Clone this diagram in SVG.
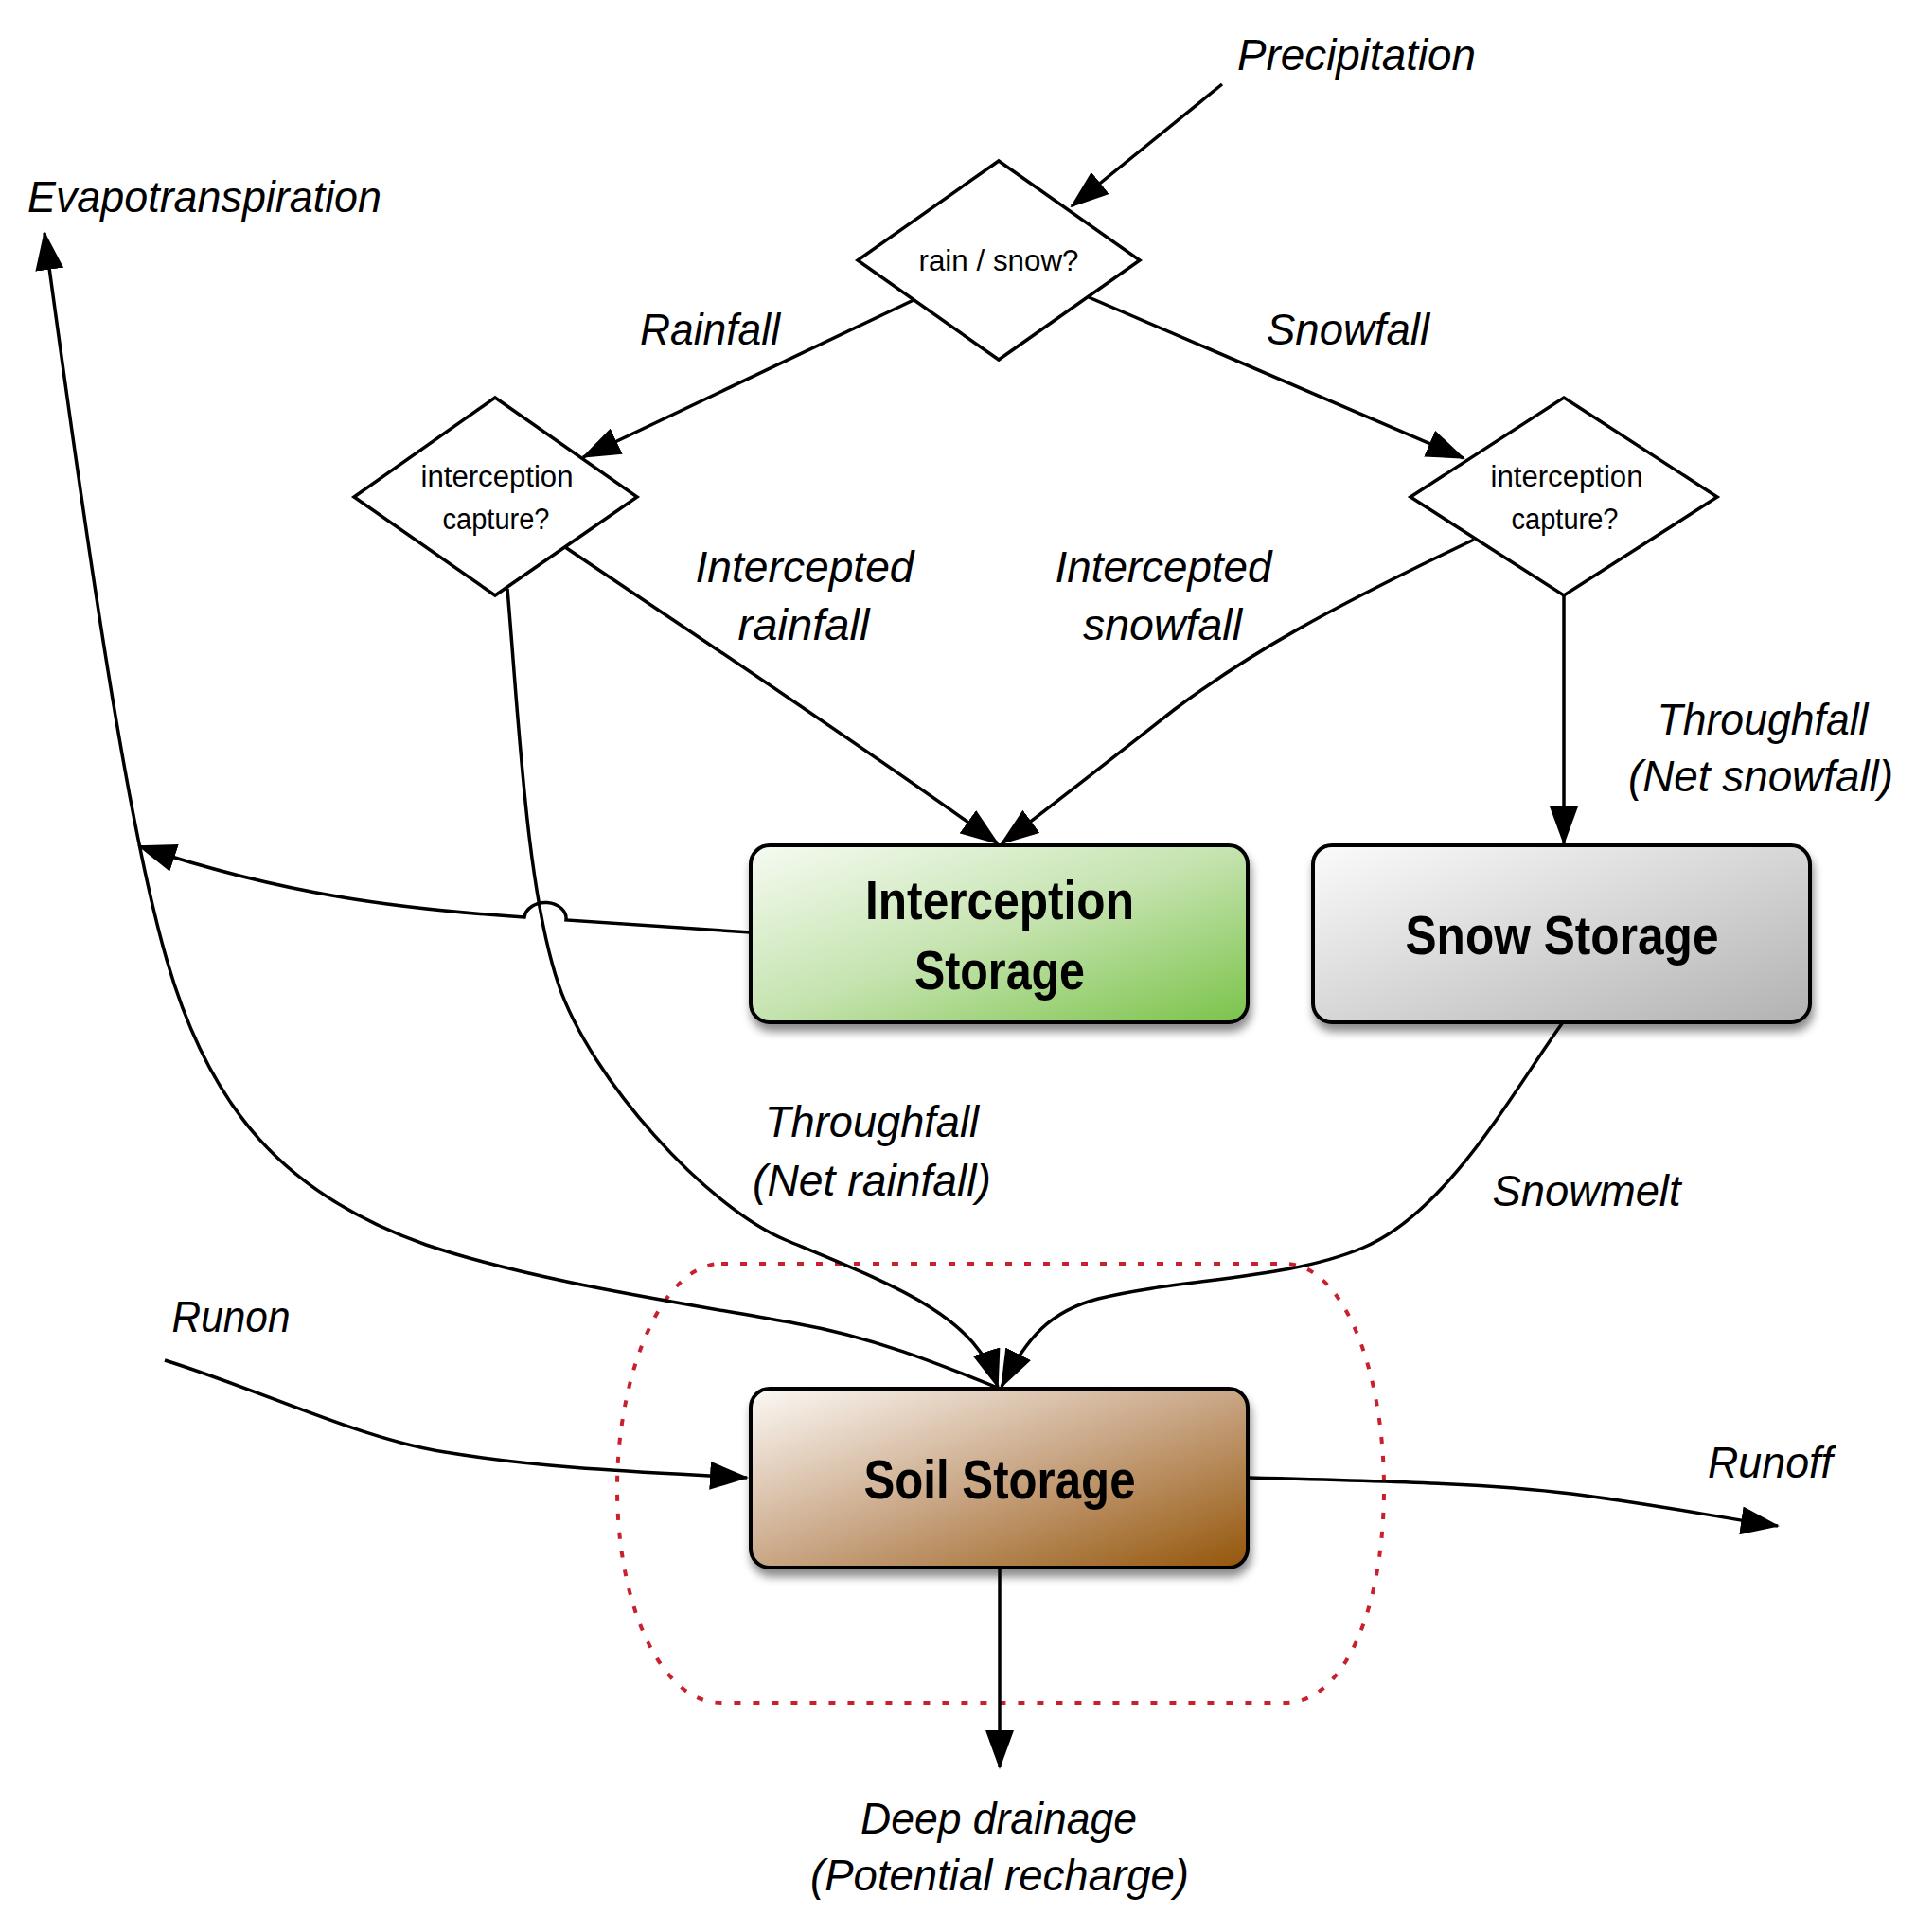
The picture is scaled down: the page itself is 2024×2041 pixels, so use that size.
<svg xmlns="http://www.w3.org/2000/svg" width="2024" height="2041" viewBox="0 0 2024 2041">
<defs>
  <linearGradient id="gInt" x1="0" y1="0" x2="1" y2="1">
    <stop offset="0" stop-color="#f6fbf2"/>
    <stop offset="0.5" stop-color="#c4e3ae"/>
    <stop offset="1" stop-color="#7bc34a"/>
  </linearGradient>
  <linearGradient id="gSnow" x1="0" y1="0" x2="1" y2="1">
    <stop offset="0" stop-color="#fbfbfb"/>
    <stop offset="1" stop-color="#b2b2b2"/>
  </linearGradient>
  <linearGradient id="gSoil" x1="0" y1="0" x2="1" y2="1">
    <stop offset="0" stop-color="#fcf9f6"/>
    <stop offset="0.5" stop-color="#c9a685"/>
    <stop offset="1" stop-color="#94560a"/>
  </linearGradient>
  <filter id="shadow" x="-10%" y="-10%" width="125%" height="140%">
    <feDropShadow dx="2" dy="8" stdDeviation="5" flood-color="#000" flood-opacity="0.45"/>
  </filter>
  <marker id="arr" markerUnits="userSpaceOnUse" viewBox="0 0 42 30" markerWidth="42" markerHeight="30" refX="39" refY="15" orient="auto">
    <path d="M0,0 L41,15 L0,30 z" fill="#000"/>
  </marker>
</defs>
<style>
  .lbl{font-family:"Liberation Sans",Arial,sans-serif;font-style:italic;font-size:46px;fill:#000;text-anchor:middle}
  .dtx{font-family:"Liberation Sans",Arial,sans-serif;font-size:31px;fill:#000;text-anchor:middle}
  .btx{font-family:"Liberation Sans",Arial,sans-serif;font-weight:bold;font-size:58px;fill:#000;text-anchor:middle}
  .con{fill:none;stroke:#000;stroke-width:3.5}
  .arrow{marker-end:url(#arr)}
  .dia{fill:#fff;stroke:#000;stroke-width:3.5;stroke-linejoin:miter}
  .box{stroke:#000;stroke-width:4}
  .region{fill:none;stroke:#c8202c;stroke-width:4;stroke-dasharray:7 13}
</style>
<rect width="2024" height="2041" fill="#fff"/>

<path id="soil-region" class="region" d="M762,1335 H1357 C1420,1335 1462,1450 1462,1572 C1462,1700 1420,1799 1357,1799 H762 C700,1799 652,1700 652,1572 C652,1450 700,1335 762,1335 Z"/>

<g id="connectors">
  <path class="con arrow" d="M1291,89 L1132,218"/>
  <path class="con arrow" d="M965,317 L616,483"/>
  <path class="con arrow" d="M1150,314 L1546,484"/>
  <path class="con arrow" d="M597,578 C700,648 900,780 1054,891"/>
  <path class="con arrow" d="M1557,570 C1400,645 1320,690 1240,750 C1170,805 1100,860 1058,891"/>
  <path class="con arrow" d="M1652,629 L1652,891"/>
  <path class="con arrow" d="M536,622 C548,760 556,940 590,1040 C624,1140 746,1275 830,1310 C950,1360 1030,1390 1054,1465"/>
  <path class="con arrow" d="M1651,1080 C1600,1150 1530,1280 1440,1318 C1360,1352 1250,1350 1160,1372 C1110,1385 1085,1412 1058,1465"/>
  <path class="con arrow" d="M793,985 L598,972 A22,17 0 0 0 554,969 C420,960 300,945 147,894"/>
  <path class="con arrow" d="M1056,1467 C990,1440 920,1412 840,1398 C700,1373 560,1352 450,1315 C300,1262 220,1170 175,1010 C135,870 95,600 47,246"/>
  <path class="con arrow" d="M174,1437 C280,1470 380,1520 470,1534 C580,1552 680,1555 789,1561"/>
  <path class="con arrow" d="M1319,1561 C1480,1565 1580,1568 1660,1578 C1740,1588 1810,1602 1878,1612"/>
  <path class="con arrow" d="M1056,1657 L1056,1867"/>
</g>

<g id="labels">
  <text class="lbl" x="1433" y="74" textLength="252" lengthAdjust="spacingAndGlyphs">Precipitation</text>
  <text class="lbl" x="216" y="224" textLength="374" lengthAdjust="spacingAndGlyphs">Evapotranspiration</text>
  <text class="lbl" x="750" y="364" textLength="148" lengthAdjust="spacingAndGlyphs">Rainfall</text>
  <text class="lbl" x="1424" y="364" textLength="172" lengthAdjust="spacingAndGlyphs">Snowfall</text>
  <text class="lbl" x="850" y="615" textLength="231" lengthAdjust="spacingAndGlyphs">Intercepted</text>
  <text class="lbl" x="849" y="676" textLength="139" lengthAdjust="spacingAndGlyphs">rainfall</text>
  <text class="lbl" x="1229" y="615" textLength="229" lengthAdjust="spacingAndGlyphs">Intercepted</text>
  <text class="lbl" x="1228" y="676" textLength="168" lengthAdjust="spacingAndGlyphs">snowfall</text>
  <text class="lbl" x="1862" y="776" textLength="223" lengthAdjust="spacingAndGlyphs">Throughfall</text>
  <text class="lbl" x="1860" y="836" textLength="280" lengthAdjust="spacingAndGlyphs">(Net snowfall)</text>
  <text class="lbl" x="921" y="1201" textLength="226" lengthAdjust="spacingAndGlyphs">Throughfall</text>
  <text class="lbl" x="921" y="1263" textLength="252" lengthAdjust="spacingAndGlyphs">(Net rainfall)</text>
  <text class="lbl" x="1676" y="1274" textLength="199" lengthAdjust="spacingAndGlyphs">Snowmelt</text>
  <text class="lbl" x="244" y="1407" textLength="125" lengthAdjust="spacingAndGlyphs">Runon</text>
  <text class="lbl" x="1870" y="1561" textLength="132" lengthAdjust="spacingAndGlyphs">Runoff</text>
  <text class="lbl" x="1055" y="1937" textLength="292" lengthAdjust="spacingAndGlyphs">Deep drainage</text>
  <text class="lbl" x="1056" y="1997" textLength="400" lengthAdjust="spacingAndGlyphs">(Potential recharge)</text>
</g>

<g id="rain-snow">
  <polygon class="dia" points="1055,170 1204,275 1055,380 906,275"/>
  <text class="dtx" x="1055" y="286" textLength="169" lengthAdjust="spacingAndGlyphs">rain / snow?</text>
</g>
<g id="rain-interception">
  <polygon class="dia" points="523,420 673,525 523,629 374,525"/>
  <text class="dtx" x="525" y="514" textLength="161" lengthAdjust="spacingAndGlyphs">interception</text>
  <text class="dtx" x="524" y="559" textLength="113" lengthAdjust="spacingAndGlyphs">capture?</text>
</g>
<g id="snow-interception">
  <polygon class="dia" points="1652,420 1814,525 1652,629 1490,525"/>
  <text class="dtx" x="1655" y="514" textLength="161" lengthAdjust="spacingAndGlyphs">interception</text>
  <text class="dtx" x="1653" y="559" textLength="113" lengthAdjust="spacingAndGlyphs">capture?</text>
</g>

<g id="interception-storage">
  <rect class="box" x="793" y="893" width="525" height="187" rx="20" fill="url(#gInt)" filter="url(#shadow)"/>
  <text class="btx" x="1056" y="971" textLength="284" lengthAdjust="spacingAndGlyphs">Interception</text>
  <text class="btx" x="1056" y="1045" textLength="180" lengthAdjust="spacingAndGlyphs">Storage</text>
</g>
<g id="snow-storage">
  <rect class="box" x="1387" y="893" width="525" height="187" rx="20" fill="url(#gSnow)" filter="url(#shadow)"/>
  <text class="btx" x="1650" y="1008" textLength="331" lengthAdjust="spacingAndGlyphs">Snow Storage</text>
</g>
<g id="soil-storage">
  <rect class="box" x="793" y="1467" width="525" height="189" rx="20" fill="url(#gSoil)" filter="url(#shadow)"/>
  <text class="btx" x="1056" y="1583" textLength="287" lengthAdjust="spacingAndGlyphs">Soil Storage</text>
</g>
</svg>
